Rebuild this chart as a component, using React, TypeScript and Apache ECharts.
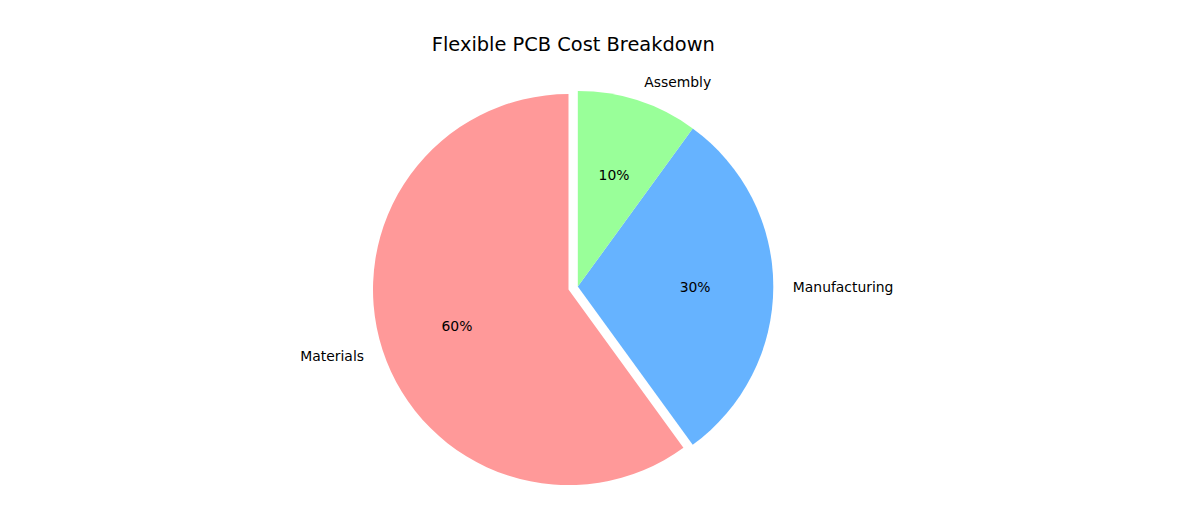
import React, { useEffect, useRef } from 'react';
import * as echarts from 'echarts';

const categories = ['Materials', 'Manufacturing', 'Assembly'];
const shares = [60, 30, 10];
const colors = ['#ff9999', '#66b3ff', '#99ff99'];
const exploded = [true, false, false];

const App: React.FC = () => {
  const chartRef = useRef<HTMLDivElement>(null);

  useEffect(() => {
    document.body.style.margin = '0';
    const chart = echarts.init(chartRef.current!, null, { renderer: 'svg' });

    // pie geometry, matplotlib style: labels at 1.1 r, pct at 0.6 r
    const cx = 577.8;
    const cy = 286.6;
    const r = 195.5;
    const offset = r * 0.05;
    const pctInner = 2 * (r * 0.6 - 3) - r;
    const font = 'DejaVu Sans';

    const pieData = categories.map((name, i) => ({
      name,
      value: shares[i],
      selected: exploded[i],
      itemStyle: { color: colors[i] },
    }));

    const options = {
      animation: false,
      graphic: [
        {
          type: 'text',
          x: 573.3,
          y: 44.7,
          style: {
            text: 'Flexible PCB Cost Breakdown',
            textAlign: 'center',
            textVerticalAlign: 'middle',
            fontSize: 19.4,
            fontFamily: font,
            fill: '#000',
          },
        },
      ],
      series: [
        {
          type: 'pie',
          center: [cx, cy],
          radius: [0, r],
          startAngle: 90,
          clockwise: false,
          selectedMode: 'single',
          selectedOffset: offset,
          avoidLabelOverlap: false,
          emphasis: { scale: false },
          label: {
            show: true,
            position: 'outside',
            formatter: '{b}',
            fontSize: 13.9,
            fontFamily: font,
            color: '#000',
            distanceToLabelLine: 0,
          },
          labelLine: { show: false, length: r * 0.1, length2: 0 },
          data: pieData,
        },
        {
          type: 'pie',
          center: [cx, cy],
          radius: [pctInner, r],
          startAngle: 90,
          clockwise: false,
          selectedMode: 'single',
          selectedOffset: offset,
          avoidLabelOverlap: false,
          silent: true,
          emphasis: { scale: false },
          itemStyle: { color: 'rgba(0,0,0,0)' },
          label: {
            show: true,
            position: 'inside',
            formatter: (p: any) => `${p.value}%`,
            fontSize: 13.9,
            fontFamily: font,
            color: '#000',
          },
          labelLine: { show: false },
          data: pieData.map((d) => ({ ...d, itemStyle: { color: 'rgba(0,0,0,0)' } })),
        },
      ],
    };

    chart.setOption(options);

    return () => {
      chart.dispose();
    };
  }, []);

  return <div ref={chartRef} style={{ width: '1200px', height: '530px' }} />;
};

export default App;
